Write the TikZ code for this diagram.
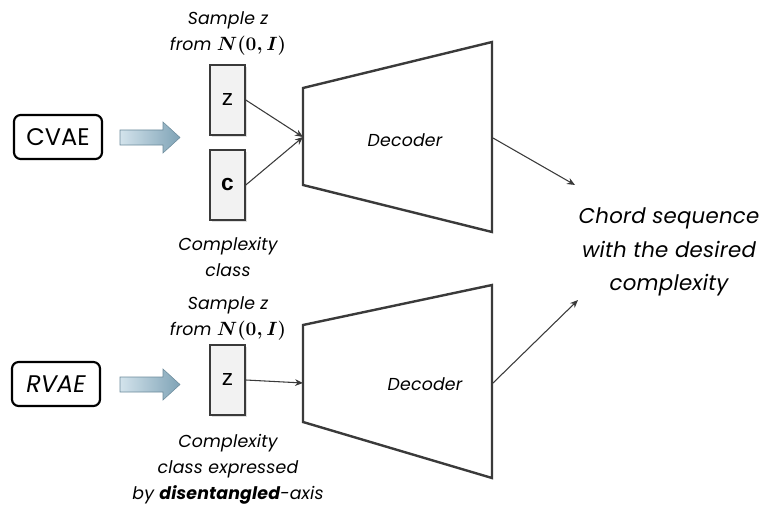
\documentclass[tikz,border=0pt]{standalone}
\usepackage{fontspec}
\setmainfont{Poppins}
\newfontfamily\arialf{Liberation Sans}
\usetikzlibrary{shadows,arrows.meta}
\definecolor{lineg}{HTML}{3A3A3A}
\definecolor{boxfill}{HTML}{F2F2F2}
\definecolor{arrL}{HTML}{D3E3EC}
\definecolor{arrR}{HTML}{7FA3B6}
\newcommand{\nzi}{{\fontsize{15}{19}\selectfont\mathversion{bold}\(N(0,I)\)}}
\begin{document}
\begin{tikzpicture}[x=0.75pt,y=-0.75pt,
  modelbox/.style={draw=black,line width=1.6pt,rounded corners=5pt,minimum width=66pt,minimum height=33pt,font=\fontsize{18}{20}\selectfont,inner sep=0pt},
  vecbox/.style={draw=lineg,line width=1.4pt,fill=boxfill,minimum width=26pt,minimum height=52pt,inner sep=0pt,font=\arialf\fontsize{17}{19}\selectfont,drop shadow={opacity=0.25,shadow xshift=1.5pt,shadow yshift=-1.5pt}},
  lab/.style={font=\fontsize{13}{19.5}\selectfont\itshape\addfontfeatures{LetterSpace=1},align=center,inner sep=0pt},
  conn/.style={draw=lineg,line width=0.8pt,-{Stealth[length=6pt,width=5pt]}},
  dec/.style={draw=lineg,line width=1.8pt,fill=white},
  fatpath/.style={draw=arrR!85!black,line width=0.4pt,left color=arrL,right color=arrR}
]
\useasboundingbox (0,0) rectangle (766,506);
% ---- CVAE row
\node[modelbox] (cvae) at (58,137) {CVAE};
\path[fatpath] (120,130) -- (163,130) -- (163,122) -- (180,137.5) -- (163,153) -- (163,145) -- (120,145) -- cycle;
\node[vecbox] (z1) at (227.5,100) {z};
\node[vecbox] (c1) at (227.5,185) {\textbf{c}};
\node[lab] (s1) at (228,33) {Sample z\\from \nzi};
\node[lab] (cc1) at (228,257) {Complexity\\class};
\draw[dec] (303,88) -- (492,42) -- (492,232) -- (303,185) -- cycle;
\coordinate (d1in) at (303,137);
\coordinate (d1out) at (493,138);
\node[lab] (dl1) at (405,140) {Decoder};
\draw[conn] (z1.east) -- (d1in);
\draw[conn] (c1.east) -- (d1in);
% ---- output
\node[font=\fontsize{16}{25}\selectfont\itshape\addfontfeatures{LetterSpace=1},align=center,inner sep=0pt] (out) at (669,252) {Chord sequence\\with the desired\\complexity};
\coordinate (o1) at (575,185);
\coordinate (o2) at (578,300);
\draw[conn] (d1out) -- (o1);
% ---- RVAE row
\node[modelbox,font=\fontsize{18}{20}\selectfont\itshape] (rvae) at (56,384) {RVAE};
\path[fatpath] (120,377) -- (163,377) -- (163,369) -- (180,384.5) -- (163,400) -- (163,392) -- (120,392) -- cycle;
\node[vecbox] (z2) at (227.5,380) {z};
\node[lab] (s2) at (228,318) {Sample z\\from \nzi};
\node[lab] (cc2) at (228,469) {Complexity\\class expressed\\by \textbf{disentangled}-axis};
\draw[dec] (303,325) -- (492,285) -- (492,478) -- (303,422) -- cycle;
\coordinate (d2in) at (303,383);
\coordinate (d2out) at (493,383);
\node[lab] (dl2) at (425,384) {Decoder};
\draw[conn] (z2.east) -- (d2in);
\draw[conn] (d2out) -- (o2);
\end{tikzpicture}
\end{document}
